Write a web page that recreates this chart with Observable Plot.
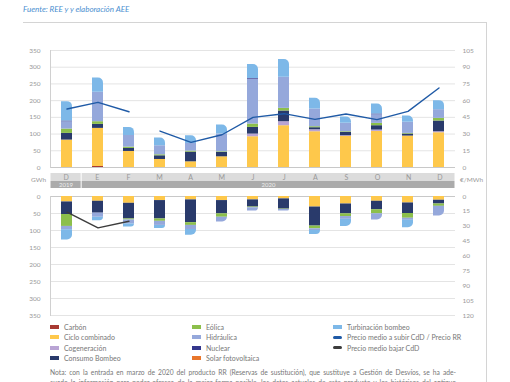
<!DOCTYPE html>
<html><head><meta charset="utf-8">
<script src="https://cdn.jsdelivr.net/npm/d3@7"></script>
<script src="https://cdn.jsdelivr.net/npm/@observablehq/plot@0.6"></script>
<style>
body{margin:0;width:510px;height:382px;overflow:hidden;background:#fff;font-family:Lato,"Open Sans",sans-serif;position:relative}
.abs{position:absolute}
.leg{position:absolute;font-size:7px;color:#777;white-space:nowrap;line-height:10px}
.note{position:absolute;left:50px;width:406px;font-size:6.7px;color:#777;text-align:justify;text-align-last:justify;white-space:nowrap;line-height:10px}
</style></head><body>
<div class="abs" style="left:23px;top:4px;font-size:8px;font-style:italic;color:#4b8fd0">Fuente: REE y y elaboración AEE</div>
<div class="abs" style="left:23px;top:22px;width:463px;height:0;border-top:1px solid #d4d4d4"></div>
<div class="abs" style="left:486px;top:22px;width:0;height:360px;border-left:1px solid #d4d4d4"></div>
<div id="up" class="abs" style="left:0;top:40px"></div>
<div id="mrow" class="abs" style="left:0;top:173px"></div>
<div id="yrow" class="abs" style="left:0;top:181px"></div>
<div class="abs" style="left:31px;top:176px;font-size:6.5px;color:#999">GWh</div>
<div class="abs" style="left:460px;top:176px;font-size:6.5px;color:#999">€/MWh</div>
<div id="down" class="abs" style="left:0;top:190px"></div>
<div id="legend"></div>
<div class="note" style="top:367px">Nota: con la entrada en marzo de 2020 del producto RR (Reservas de sustitución), que sustituye a Gestión de Desvíos, se ha ade-</div>
<div class="note" style="top:377px">cuado la información para poder ofrecer, de la mejor forma posible, los datos actuales de este producto y los históricos del antiguo</div>
<script>
// ---- categories ----
const periods = ["2019-12","2020-01","2020-02","2020-03","2020-04","2020-05","2020-06","2020-07","2020-08","2020-09","2020-10","2020-11","2020-12"];
const monthLabels = ["D","E","F","M","A","M","J","J","A","S","O","N","D"];
const years = ["2019","2020"];
const yearFirstPeriod = ["2019-12","2020-01"];
const yearLastPeriod = ["2019-12","2020-12"];
const techs = ["Carbón","Ciclo combinado","Cogeneración","Consumo Bombeo","Eólica","Hidráulica","Nuclear","Solar fotovoltaica","Turbinación bombeo"];
const techColors = ["#a83a32","#fec84b","#b9a4d4","#293a6b","#8cbf4b","#95a8db","#34378c","#e8762b","#7db8e8"];
const priceSeries = ["Precio medio a subir CdD / Precio RR","Precio medio bajar CdD"];
const priceColors = ["#1f5aa6","#3c3c3c"];

// ---- upward energy (GWh) ----
const subirCarbon       = [0,3,0,0,0,0,0,0,0,0,0,0,0];
const subirCiclo        = [82,114,48,24,17,32,92,125,107,93,108,94,104];
const subirCogeneracion = [0,0,0,0,0,0,8,12,6,2,4,0,3];
const subirConsumo      = [20,12,9,11,29,13,20,32,6,10,13,6,32];
const subirEolica       = [13,8,4,3,3,2,10,8,3,2,7,2,8];
const subirHidraulica   = [22,88,35,27,23,53,134,93,53,25,26,33,26];
const subirNuclear      = [2,0,0,0,0,0,2,0,0,0,2,0,0];
const subirSolar        = [0,0,0,0,0,0,0,0,0,0,0,0,0];
const subirTurbinacion  = [58,43,24,23,23,27,42,53,32,19,30,19,27];

// ---- downward energy (GWh) ----
const bajarCarbon       = [0,0,0,0,0,0,0,0,0,0,0,0,0];
const bajarCiclo        = [16,14,20,12,10,12,10,7,31,22,14,19,11];
const bajarCogeneracion = [0,0,0,0,0,0,0,0,0,0,0,0,0];
const bajarConsumo      = [37,35,46,54,67,39,21,30,56,29,25,31,11];
const bajarEolica       = [35,0,3,7,8,10,2,1,8,8,12,14,7];
const bajarHidraulica   = [10,12,12,12,12,14,10,5,5,8,18,6,28];
const bajarNuclear      = [0,0,0,0,0,0,0,0,0,0,0,0,0];
const bajarSolar        = [0,0,0,0,0,0,0,0,0,0,0,0,0];
const bajarTurbinacion  = [30,10,9,9,17,0,0,0,12,21,0,22,0];

// ---- prices (€/MWh) ----
const precioSubir = [52.5,58.5,50,32.7,22.5,29.4,45,48.3,43.2,48,43,50.4,71.4];
const precioTramo = ["CdD","CdD","CdD","RR","RR","RR","RR","RR","RR","RR","RR","RR","RR"];
const precioBajar = [15.8,31.6,24.9,null,null,null,null,null,null,null,null,null,null];

// ---- axes ----
const gwhTicks = [0,50,100,150,200,250,300,350];
const gwhMax = 350;
const precioMaxSubir = 105;
const precioMaxBajar = 120;
const precioTicksSubir = [0,15,30,45,60,75,90,105];
const precioTicksBajar = [0,15,30,45,60,75,90,105,120];

const subir = [subirCarbon,subirCiclo,subirCogeneracion,subirConsumo,subirEolica,subirHidraulica,subirNuclear,subirSolar,subirTurbinacion];
const bajar = [bajarCarbon,bajarCiclo,bajarCogeneracion,bajarConsumo,bajarEolica,bajarHidraulica,bajarNuclear,bajarSolar,bajarTurbinacion];

function stackRows(series) {
  const rows = [];
  periods.forEach((p, i) => {
    let acc = 0;
    let last = -1;
    series.forEach((s, k) => { if (s[i] > 0) last = k; });
    series.forEach((s, k) => {
      const v = s[i];
      if (v > 0) {
        rows.push({period: p, tech: techs[k], y1: acc, y2: acc + v, top: k === last});
        acc += v;
      }
    });
  });
  return rows;
}
const upRows = stackRows(subir);
const downRows = stackRows(bajar);
const upPrice = periods.map((p, i) => ({period: p, precio: precioSubir[i], tramo: precioTramo[i]}));
const downPrice = periods.map((p, i) => ({period: p, precio: precioBajar[i]})).filter(d => d.precio != null);

const W = 510, ML = 50, MR = 55;
const baseStyle = {fontFamily: "Lato, 'Open Sans', sans-serif", fontSize: "6.5px", color: "#999", background: "transparent", overflow: "visible"};
const xBand = {type: "band", domain: periods, paddingInner: 0.65, paddingOuter: 0.325, axis: null};
const color = {domain: techs, range: techColors};

function panel({rows, price, priceColor, priceMax, priceTicks, reverse, height, marginTop, marginBottom, z}) {
  const k = gwhMax / priceMax;
  return Plot.plot({
    width: W, height, marginTop, marginBottom, marginLeft: ML, marginRight: MR,
    x: xBand,
    y: {domain: [0, gwhMax], reverse, axis: null},
    color,
    style: baseStyle,
    marks: [
      Plot.gridY(gwhTicks, {stroke: "#e4e4e4", strokeOpacity: 1}),
      Plot.ruleY([0], {stroke: "#c8c8c8"}),
      Plot.frame({anchor: "left", stroke: "#d0d0d0"}),
      Plot.axisY(gwhTicks, {anchor: "left", tickSize: 0, tickPadding: 10, label: null, fill: "#999"}),
      Plot.axisY(priceTicks.map(p => p * k), {anchor: "right", tickSize: 0, tickPadding: 7, label: null, fill: "#999", tickFormat: d => Math.round(d / k)}),
      Plot.barY(rows.filter(d => !d.top), {x: "period", y1: "y1", y2: "y2", fill: "tech"}),
      Plot.barY(rows.filter(d => d.top), {x: "period", y1: "y1", y2: "y2", fill: "tech", ...(reverse ? {rx2y2: 5} : {rx2y1: 5})}),
      Plot.line(price, {x: "period", y: d => d.precio * k, z, stroke: priceColor, strokeWidth: 1.4})
    ]
  });
}

document.getElementById("up").append(panel({rows: upRows, price: upPrice, priceColor: priceColors[0], priceMax: precioMaxSubir, priceTicks: precioTicksSubir, reverse: false, height: 130, marginTop: 10, marginBottom: 3, z: "tramo"}));
document.getElementById("down").append(panel({rows: downRows, price: downPrice, priceColor: priceColors[1], priceMax: precioMaxBajar, priceTicks: precioTicksBajar, reverse: true, height: 128, marginTop: 6, marginBottom: 3, z: null}));

// month / year band
const idx = p => periods.indexOf(p);
const xLin = {type: "linear", domain: [0, periods.length], axis: null};
const yearSpans = years.map((y, i) => ({year: y, x1: idx(yearFirstPeriod[i]), x2: idx(yearLastPeriod[i]) + 1}));
document.getElementById("mrow").append(Plot.plot({
  width: W, height: 8, marginTop: 0, marginBottom: 0, marginLeft: ML, marginRight: MR,
  x: xLin, y: {axis: null}, style: {...baseStyle, fontSize: "7px"},
  marks: [
    Plot.rect(yearSpans, {x1: "x1", x2: "x2", fill: "#dcdcdc", insetLeft: 0.5, insetRight: 0.5}),
    Plot.text(periods, {x: (d, i) => i + 0.5, text: (d, i) => monthLabels[i], frameAnchor: "middle", fill: "#999"})
  ]
}));
document.getElementById("yrow").append(Plot.plot({
  width: W, height: 7, marginTop: 0, marginBottom: 0, marginLeft: ML, marginRight: MR,
  x: xLin, y: {axis: null}, style: {...baseStyle, fontSize: "6px"},
  marks: [
    Plot.rect(yearSpans, {x1: "x1", x2: "x2", fill: "#ababab", insetLeft: 0.5, insetRight: 0.5}),
    Plot.text(yearSpans, {x: d => (d.x1 + d.x2) / 2, text: "year", frameAnchor: "middle", fill: "#eeeeee"})
  ]
}));

// legend
const legendItems = techs.map((t, i) => ({label: t, color: techColors[i], kind: "rect"}))
  .concat(priceSeries.map((t, i) => ({label: t, color: priceColors[i], kind: "line"})));
const colLeft = [50, 192, 333];
const leg = document.getElementById("legend");
legendItems.forEach((it, k) => {
  const col = Math.floor(k / 4), row = k % 4;
  const top = 322 + row * 10.3;
  const sw = document.createElement("div");
  sw.className = "abs";
  if (it.kind === "rect") {
    sw.style.cssText = `left:${colLeft[col]}px;top:${top + 3}px;width:9px;height:4px;background:${it.color}`;
  } else {
    sw.style.cssText = `left:${colLeft[col]}px;top:${top + 3.5}px;width:9px;height:3px;border-radius:2px;background:${it.color}`;
  }
  const tx = document.createElement("div");
  tx.className = "leg";
  tx.style.left = (colLeft[col] + 14) + "px";
  tx.style.top = top + "px";
  tx.textContent = it.label;
  leg.append(sw, tx);
});
</script>
</body></html>
